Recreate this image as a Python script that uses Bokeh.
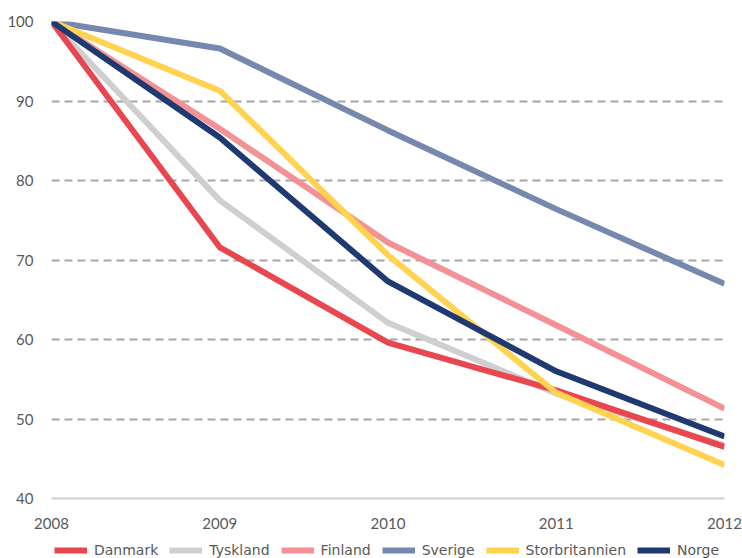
from bokeh.plotting import figure
from bokeh.models import Legend, LegendItem, FixedTicker, Range1d
from bokeh.layouts import column
from bokeh.embed import file_html
from bokeh.resources import INLINE

years = [2008, 2009, 2010, 2011, 2012]
danmark = [100, 71.6, 59.6, 53.6, 46.5]
tyskland = [100, 77.5, 62.1, 53.2, 46.7]
finland = [100, 86.5, 72.2, 61.8, 51.3]
sverige = [100, 96.6, 86.3, 76.4, 67.0]
storbritannien = [100, 91.3, 70.6, 53.3, 44.2]
norge = [100, 85.4, 67.3, 56.0, 47.8]

series = [
    ("Danmark", danmark, "#E8474F"),
    ("Tyskland", tyskland, "#CFCFCF"),
    ("Finland", finland, "#F39194"),
    ("Sverige", sverige, "#7788AE"),
    ("Storbritannien", storbritannien, "#FFD24F"),
    ("Norge", norge, "#1F3A70"),
]
draw_order = [1, 0, 2, 3, 4, 5]

FONT = "Lato"
GREY = "#595959"

p = figure(width=742, height=533, output_backend="svg", toolbar_location=None,
           x_range=Range1d(2008, 2012), y_range=Range1d(40, 100),
           min_border_left=51, min_border_right=18, min_border_top=21, min_border_bottom=35)
p.outline_line_color = None
p.background_fill_color = "white"
p.border_fill_color = "white"

for i in draw_order:
    name, vals, col = series[i]
    p.line(years, vals, line_color=col, line_width=6)

p.xaxis.ticker = FixedTicker(ticks=years)
p.yaxis.ticker = FixedTicker(ticks=[40, 50, 60, 70, 80, 90, 100])
for ax in (p.xaxis[0], p.yaxis[0]):
    ax.major_tick_line_color = None
    ax.minor_tick_line_color = None
    ax.major_label_text_font = FONT
    ax.major_label_text_font_size = "15px"
    ax.major_label_text_color = GREY
p.yaxis.axis_line_color = None
p.yaxis.major_label_standoff = 12
p.xaxis.axis_line_color = "#D0D0D0"
p.xaxis.axis_line_width = 2
p.xaxis.major_label_standoff = 13

p.xgrid.grid_line_color = None
p.ygrid.grid_line_color = "#A6A6A6"
p.ygrid.grid_line_width = 2
p.ygrid.grid_line_dash = "8 5"

# legend strip
lf = figure(width=742, height=25, output_backend="svg", toolbar_location=None,
            x_range=Range1d(0, 1), y_range=Range1d(0, 1),
            min_border_left=0, min_border_right=0, min_border_top=0, min_border_bottom=0)
lf.axis.visible = False
lf.grid.grid_line_color = None
lf.outline_line_color = None
lf.background_fill_color = "white"
lf.border_fill_color = "white"
items = []
for name, vals, col in series:
    r = lf.line([5, 6], [5, 6], line_color=col, line_width=6)
    items.append(LegendItem(label=name, renderers=[r]))
legend = Legend(items=items, orientation="horizontal", location=(3, 0),
                label_text_font="DejaVu Sans", label_text_font_size="14px", label_text_color=GREY,
                glyph_width=33, glyph_height=14, label_standoff=7, spacing=11,
                padding=2, margin=0, border_line_color=None, background_fill_alpha=0)
lf.add_layout(legend, "center")

open("out.html", "w").write(file_html(column(p, lf, spacing=0), INLINE))
